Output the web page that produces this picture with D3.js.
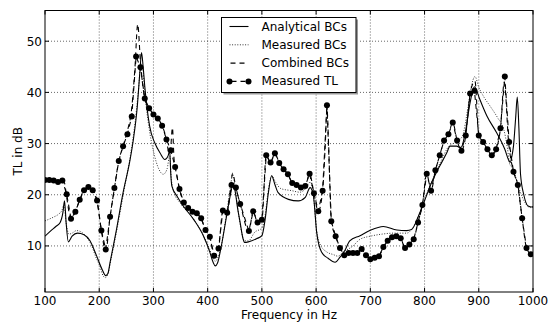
<!DOCTYPE html>
<html><head><meta charset="utf-8">
<script src="https://cdn.jsdelivr.net/npm/d3@7"></script>
<style>
html,body{margin:0;padding:0;background:#fff;}
svg{display:block;font-family:"DejaVu Sans",sans-serif;}
</style></head>
<body><svg id="c" width="549" height="323"></svg>
<script>
// ---- data ----
const xTicks = [100,200,300,400,500,600,700,800,900,1000];
const yTicks = [10,20,30,40,50];
const xLabel = "Frequency in Hz";
const yLabel = "TL in dB";
const seriesNames = ["Analytical BCs","Measured BCs","Combined BCs","Measured TL"];

// Analytical BCs [Hz, dB]
const analyticalF = [100,110,120,128,133,136,139,143,150,160,172,183,195,205,212,216,220,232,244,257,263,270,275,278,281,284,293,303,312,321,327,330,332,334,343,355,374,392,404,410,414,418,423,435,442,446,450,455,460,465,468,475,490,500,506,512,518,524,530,549,567,580,589,595,601,610,622,635,644,653,662,681,699,724,749,767,776,789,801,813,828,841,847,859,867,875,884,892,902,915,933,948,955,958,961,964,968,971,974,977,983,991,998,1000];
const analyticalV = [11.9,12.9,13.8,14.6,16.5,18.8,14.5,10.8,11.9,12.5,12.2,11.0,8.1,5.5,4.2,4.6,6.8,13.3,20.4,26.9,30.8,37.0,44.0,47.8,45.0,41.2,33.4,30.0,28.2,26.9,27.6,28.6,24.0,21.7,19.8,17.8,15.2,12.0,8.8,6.8,6.1,6.6,8.8,15.9,20.0,21.7,21.0,17.5,14.5,11.5,10.7,10.8,11.4,12.0,15.2,20.4,23.7,22.0,20.4,19.1,18.8,19.5,21.4,19.8,12.7,8.8,7.6,6.8,7.8,9.1,11.0,12.0,13.0,13.8,13.1,13.0,13.2,15.9,19.1,22.4,25.6,28.2,29.5,29.5,29.2,32.1,38.0,41.1,38.6,35.4,32.1,28.9,26.8,26.3,27.5,29.5,35.0,39.1,33.0,24.0,20.0,17.8,17.6,17.7];

// Measured BCs [Hz, dB]
const measuredBcF = [100,115,125,131,135,139,144,150,158,172,185,195,201,207,211,216,222,234,246,258,266,272,277,280,284,292,300,310,318,325,330,333,338,350,370,390,403,410,414,419,425,435,442,446,450,456,462,468,475,487,500,506,512,518,525,535,555,570,583,589,595,601,608,620,632,640,650,668,681,700,721,743,767,778,791,803,815,830,845,862,870,880,886,893,900,910,921,935,946,953,957,960,965,975,985,995,1000];
const measuredBcV = [14.9,15.6,16.2,16.9,18.0,14.5,12.3,12.5,13.0,12.3,10.3,7.5,6.1,4.2,3.8,4.5,7.5,14.0,21.0,28.0,34.0,40.0,45.5,45.0,40.0,33.0,28.5,25.0,24.0,25.0,27.6,23.0,20.5,18.3,15.8,12.5,9.5,7.6,7.0,7.8,10.0,16.5,21.5,24.0,22.0,17.0,13.0,11.0,11.0,12.7,13.5,16.0,21.0,23.7,22.5,21.2,20.8,20.5,21.5,22.5,20.0,13.0,10.2,8.8,8.3,8.0,8.8,10.0,11.3,11.9,12.3,12.5,12.5,13.5,16.5,20.0,23.0,26.5,29.5,30.5,31.5,37.0,41.0,43.1,41.0,39.0,37.3,35.0,32.8,29.0,26.0,25.5,24.5,21.0,18.5,17.5,17.5];

// Combined BCs [Hz, dB]
const combinedF = [100,108,116,124,132,136,140,148,156,164,172,180,188,196,204,212,220,228,236,244,252,260,266,271,276,284,292,300,308,316,324,329,332,335,338,342,348,356,364,372,380,388,396,404,412,420,428,436,442,446,452,460,476,484,492,500,508,516,524,532,540,548,556,564,572,580,588,596,604,612,617,620,623,628,636,644,652,660,668,676,684,692,700,708,716,724,732,740,748,756,764,772,780,788,796,804,812,820,828,836,844,852,860,868,876,884,893,900,908,916,924,932,940,947,955,964,972,980,988,996,1000];
const combinedV = [22.9,22.9,22.8,22.5,22.8,22.3,19.5,15.3,16.7,19.0,20.9,21.5,20.9,18.9,13.0,9.0,15.7,21.3,26.6,29.5,32.5,37.0,45.0,53.3,46.0,38.8,36.9,35.7,34.9,33.5,30.8,28.0,29.5,33.1,27.0,24.5,21.1,18.5,17.4,16.7,16.4,15.4,13.1,11.8,8.1,9.5,16.9,16.5,21.0,24.2,21.4,18.2,12.9,16.8,14.6,15.1,27.7,26.3,28.1,26.2,25.0,24.0,22.3,21.9,21.4,21.7,24.1,20.3,16.8,20.8,30.0,37.0,30.0,14.8,11.9,9.6,8.2,8.6,8.6,8.6,9.4,8.2,7.4,7.7,8.0,9.8,11.0,11.7,11.9,11.5,9.6,10.3,11.3,14.6,18.0,24.1,20.8,24.8,27.7,30.6,31.8,34.1,30.6,28.6,31.6,39.8,42.2,31.6,30.3,28.9,27.7,28.9,33.0,42.0,30.3,24.5,21.9,15.4,9.6,8.4,8.3];

// Measured TL [Hz, dB]
const tlF = [100,108,116,124,132,140,148,156,164,172,180,188,196,204,212,220,228,236,244,252,260,268,276,284,292,300,308,316,324,332,340,348,356,364,372,380,388,396,404,412,420,428,436,444,452,460,476,484,492,500,508,516,524,532,540,548,556,564,572,580,588,596,604,612,620,628,636,644,652,660,668,676,684,692,700,708,716,724,732,740,748,756,764,772,780,788,796,804,812,820,828,836,844,852,860,868,876,884,892,900,908,916,924,932,940,948,956,964,972,980,988,996];
const tlV = [22.9,22.9,22.8,22.5,22.8,20.1,15.3,16.7,19.0,20.9,21.5,20.9,18.9,13.0,9.3,15.7,21.3,26.6,29.5,31.8,35.3,47.0,44.9,38.8,36.9,35.7,34.9,33.5,30.8,28.7,25.4,21.1,18.5,17.4,16.7,16.4,15.4,13.1,11.8,8.1,9.5,16.9,16.5,21.9,21.4,18.2,12.9,16.8,14.6,15.1,27.7,26.3,28.1,26.2,25.0,24.0,22.3,21.9,21.4,21.7,24.1,20.3,16.8,20.8,37.5,14.8,11.9,9.6,8.2,8.6,8.6,8.6,9.4,8.2,7.4,7.7,8.0,9.8,11.0,11.7,11.9,11.5,9.6,10.3,11.3,14.6,18.0,24.1,20.8,24.8,27.7,30.6,31.8,34.1,30.6,28.6,31.6,39.8,40.3,31.6,30.3,28.9,27.7,28.9,33.0,43.1,30.3,24.5,21.9,15.4,9.6,8.4];

// ---- drawing ----
const svg = d3.select("#c");
const L = 45, R = 533, T = 10.5, B = 292;
const x = d3.scaleLinear().domain([100,1000]).range([L,R]);
const y = d3.scaleLinear().domain([1,56]).range([B,T]);

const grid = svg.append("g");
xTicks.slice(1,-1).forEach(t => grid.append("line")
  .attr("x1",x(t)).attr("x2",x(t)).attr("y1",T).attr("y2",B)
  .attr("stroke","#000").attr("stroke-width",0.6).attr("stroke-dasharray","1,2"));
yTicks.forEach(t => grid.append("line")
  .attr("x1",L).attr("x2",R).attr("y1",y(t)).attr("y2",y(t))
  .attr("stroke","#000").attr("stroke-width",0.6).attr("stroke-dasharray","1,2"));

const defs = svg.append("defs");
defs.append("clipPath").attr("id","clip").append("rect")
  .attr("x",L).attr("y",T).attr("width",R-L).attr("height",B-T);
const plot = svg.append("g").attr("clip-path","url(#clip)");

const zip = (f,v) => f.map((d,i)=>[d,v[i]]);
const smooth = d3.line().x(d=>x(d[0])).y(d=>y(d[1])).curve(d3.curveMonotoneX);
const lin = d3.line().x(d=>x(d[0])).y(d=>y(d[1]));

plot.append("path").attr("d",smooth(zip(measuredBcF,measuredBcV)))
  .attr("fill","none").attr("stroke","#333").attr("stroke-width",1).attr("stroke-dasharray","1,1.6");
plot.append("path").attr("d",smooth(zip(analyticalF,analyticalV)))
  .attr("fill","none").attr("stroke","#000").attr("stroke-width",1.1);
plot.append("path").attr("d",smooth(zip(combinedF,combinedV)))
  .attr("fill","none").attr("stroke","#000").attr("stroke-width",1.1).attr("stroke-dasharray","5,4");
plot.append("path").attr("d",lin(zip(tlF,tlV)))
  .attr("fill","none").attr("stroke","#000").attr("stroke-width",1.1).attr("stroke-dasharray","5,4").attr("stroke-dashoffset",2);
plot.selectAll("circle.tl").data(zip(tlF,tlV)).enter().append("circle")
  .attr("cx",d=>x(d[0])).attr("cy",d=>y(d[1])).attr("r",3).attr("fill","#000");

// frame & ticks
svg.append("rect").attr("x",L).attr("y",T).attr("width",R-L).attr("height",B-T)
  .attr("fill","none").attr("stroke","#000").attr("stroke-width",1);
const tk = svg.append("g").attr("stroke","#000").attr("stroke-width",1);
xTicks.forEach(t=>{
  tk.append("line").attr("x1",x(t)).attr("x2",x(t)).attr("y1",B).attr("y2",B-4);
  tk.append("line").attr("x1",x(t)).attr("x2",x(t)).attr("y1",T).attr("y2",T+4);
});
yTicks.forEach(t=>{
  tk.append("line").attr("x1",L).attr("x2",L+4).attr("y1",y(t)).attr("y2",y(t));
  tk.append("line").attr("x1",R).attr("x2",R-4).attr("y1",y(t)).attr("y2",y(t));
});
const lab = svg.append("g").attr("font-size",12).attr("fill","#000");
xTicks.forEach(t=> lab.append("text").attr("x",x(t)).attr("y",304.5)
  .attr("text-anchor","middle").text(t));
yTicks.forEach(t=> lab.append("text").attr("x",42).attr("y",y(t)).attr("dy","0.36em")
  .attr("text-anchor","end").text(t));
lab.append("text").attr("x",(L+R)/2).attr("y",319).attr("text-anchor","middle").text(xLabel);
lab.append("text").attr("transform",`translate(21.5,${(T+B)/2}) rotate(-90)`)
  .attr("text-anchor","middle").text(yLabel);

// legend
const lg = svg.append("g");
const lx = 221.5, ly = 17.5, lw = 134.5, lh = 75;
lg.append("rect").attr("x",lx+2).attr("y",ly+2).attr("width",lw).attr("height",lh).attr("fill","#999");
lg.append("rect").attr("x",lx).attr("y",ly).attr("width",lw).attr("height",lh)
  .attr("fill","#fff").attr("stroke","#000").attr("stroke-width",1);
const rows = [30.5,48.8,67.1,85.4];
const sx1 = 229.5, sx2 = 248.5;
seriesNames.forEach((n,i)=>{
  const cy = rows[i]-4;
  const ln = lg.append("line").attr("x1",sx1).attr("x2",sx2).attr("y1",cy).attr("y2",cy)
    .attr("stroke","#000").attr("stroke-width",1.1);
  if(i===1) ln.attr("stroke","#333").attr("stroke-width",1).attr("stroke-dasharray","1,1.6");
  if(i===2) ln.attr("stroke-dasharray","5,4").attr("stroke-dashoffset",-1);
  if(i===3){ ln.attr("stroke-dasharray","5,4").attr("stroke-dashoffset",-2);
    lg.append("circle").attr("cx",sx1).attr("cy",cy).attr("r",3);
    lg.append("circle").attr("cx",sx2).attr("cy",cy).attr("r",3); }
  lg.append("text").attr("x",261.5).attr("y",rows[i]).attr("font-size",12).text(n);
});
</script></body></html>
